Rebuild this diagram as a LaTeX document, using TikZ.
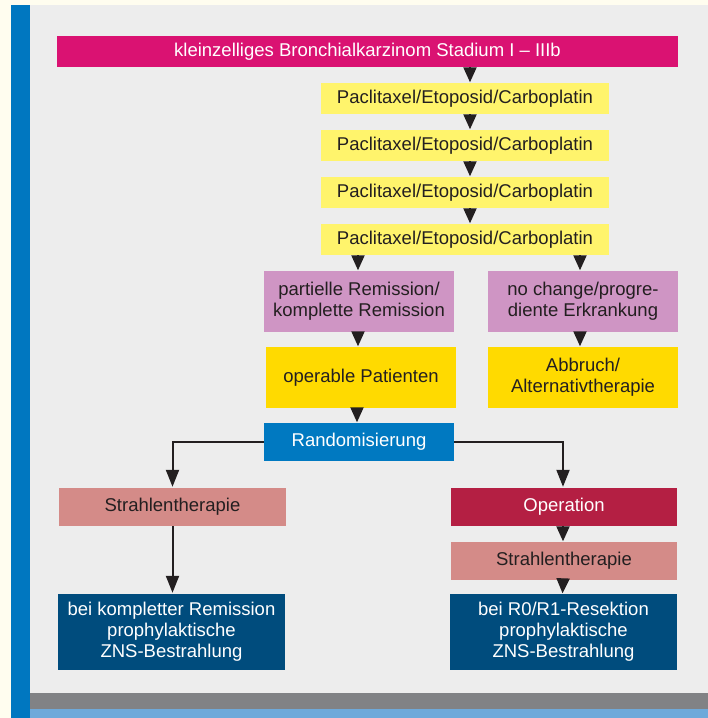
\documentclass[tikz,border=0pt]{standalone}
\usepackage{fontspec}
\setmainfont{Liberation Sans}
\usetikzlibrary{arrows.meta}
\definecolor{cream}{HTML}{FFFDEF}
\definecolor{panel}{HTML}{EDEDED}
\definecolor{barblue}{HTML}{0077C0}
\definecolor{bandgray}{HTML}{818285}
\definecolor{bandblue}{HTML}{6EA9DA}
\definecolor{ink}{HTML}{231F20}
\definecolor{titlemag}{HTML}{DA1272}
\definecolor{chemoyellow}{HTML}{FFF46C}
\definecolor{lilac}{HTML}{CF95C4}
\definecolor{gold}{HTML}{FFDA00}
\definecolor{randblue}{HTML}{0079C1}
\definecolor{salmon}{HTML}{D48B88}
\definecolor{crimson}{HTML}{B41F43}
\definecolor{navy}{HTML}{004C7D}

\begin{document}
\begin{tikzpicture}[x=1pt,y=-1pt,
  box/.style={rectangle,inner sep=0pt,align=center,text=ink,font=\fontsize{18.5}{21}\selectfont},
  tri/.style={draw=ink,line width=2pt,-{Triangle[width=13pt,length=15pt]},shorten >=0.5pt},
  longtri/.style={draw=ink,line width=2pt,-{Triangle[width=13pt,length=17pt]},shorten >=1pt}]
\useasboundingbox (0,0) rectangle (708,718);
\fill[cream] (0,0) rectangle (708,718);
\fill[panel] (30,5) rectangle (708,693);
\fill[barblue] (11,5) rectangle (30,718);
\fill[bandgray] (30,693) rectangle (708,709);
\fill[bandblue] (30,709) rectangle (708,718);

\node[box,fill=titlemag,text=white,minimum width=621pt,minimum height=31pt] (titel) at (367.5,51.3) {kleinzelliges Bronchialkarzinom Stadium I – IIIb};
\foreach \i/\y in {1/98.5,2/145.5,3/192.5,4/239.5}
  \node[box,fill=chemoyellow,minimum width=288pt,minimum height=31pt] (zyklus\i) at (465,\y) {Paclitaxel/Etoposid/Carboplatin};
\node[box,fill=lilac,minimum width=190pt,minimum height=61pt] (remission) at (359,301.5) {partielle Remission/\\komplette Remission};
\node[box,fill=lilac,minimum width=190pt,minimum height=61pt] (progress) at (583,301.5) {no change/progre-\\diente Erkrankung};
\node[box,fill=gold,minimum width=190pt,minimum height=61pt] (operabel) at (361,377.5) {operable Patienten};
\node[box,fill=gold,minimum width=190pt,minimum height=61pt] (abbruch) at (583,377.5) {Abbruch/\\Alternativtherapie};
\node[box,fill=randblue,text=white,minimum width=190pt,minimum height=38pt] (random) at (359,442) {Randomisierung};
\node[box,fill=salmon,minimum width=227pt,minimum height=38pt] (strahlL) at (172.5,507) {Strahlentherapie};
\node[box,fill=crimson,text=white,minimum width=226pt,minimum height=38pt] (op) at (564,507) {Operation};
\node[box,fill=salmon,minimum width=226pt,minimum height=38pt] (strahlR) at (564,561) {Strahlentherapie};
\node[box,fill=navy,text=white,minimum width=227pt,minimum height=76pt] (znsL) at (171.5,632) {bei kompletter Remission\\prophylaktische\\ZNS-Bestrahlung};
\node[box,fill=navy,text=white,minimum width=227pt,minimum height=76pt] (znsR) at (563.5,632) {bei R0/R1-Resektion\\prophylaktische\\ZNS-Bestrahlung};

\draw[tri] ([xshift=5pt]zyklus1.north |- titel.south) -- ([xshift=5pt]zyklus1.north);
\foreach \a/\b in {1/2,2/3,3/4}
  \draw[tri] ([xshift=5pt]zyklus\a.south) -- ([xshift=5pt]zyklus\b.north);
\draw[tri] ([xshift=-1pt]remission.north |- zyklus4.south) -- ([xshift=-1pt]remission.north);
\draw[tri] ([xshift=-3pt]progress.north |- zyklus4.south) -- ([xshift=-3pt]progress.north);
\draw[tri] ([xshift=-1pt]remission.south) -- ([xshift=-1pt]remission.south |- operabel.north);
\draw[tri] ([xshift=-3pt]progress.south) -- ([xshift=-3pt]abbruch.north);
\draw[tri] ([xshift=-2pt]random.north |- operabel.south) -- ([xshift=-2pt]random.north);
\draw[longtri] (random.west) -| (strahlL.north);
\draw[longtri] (random.east) -| ([xshift=-1pt]op.north);
\draw[tri] ([xshift=-1pt]op.south) -- ([xshift=-1pt]strahlR.north);
\draw[tri] ([xshift=-1pt]strahlR.south) -- ([xshift=-1pt]znsR.north);
\draw[longtri] (strahlL.south) -- (strahlL.south |- znsL.north);
\end{tikzpicture}
\end{document}
